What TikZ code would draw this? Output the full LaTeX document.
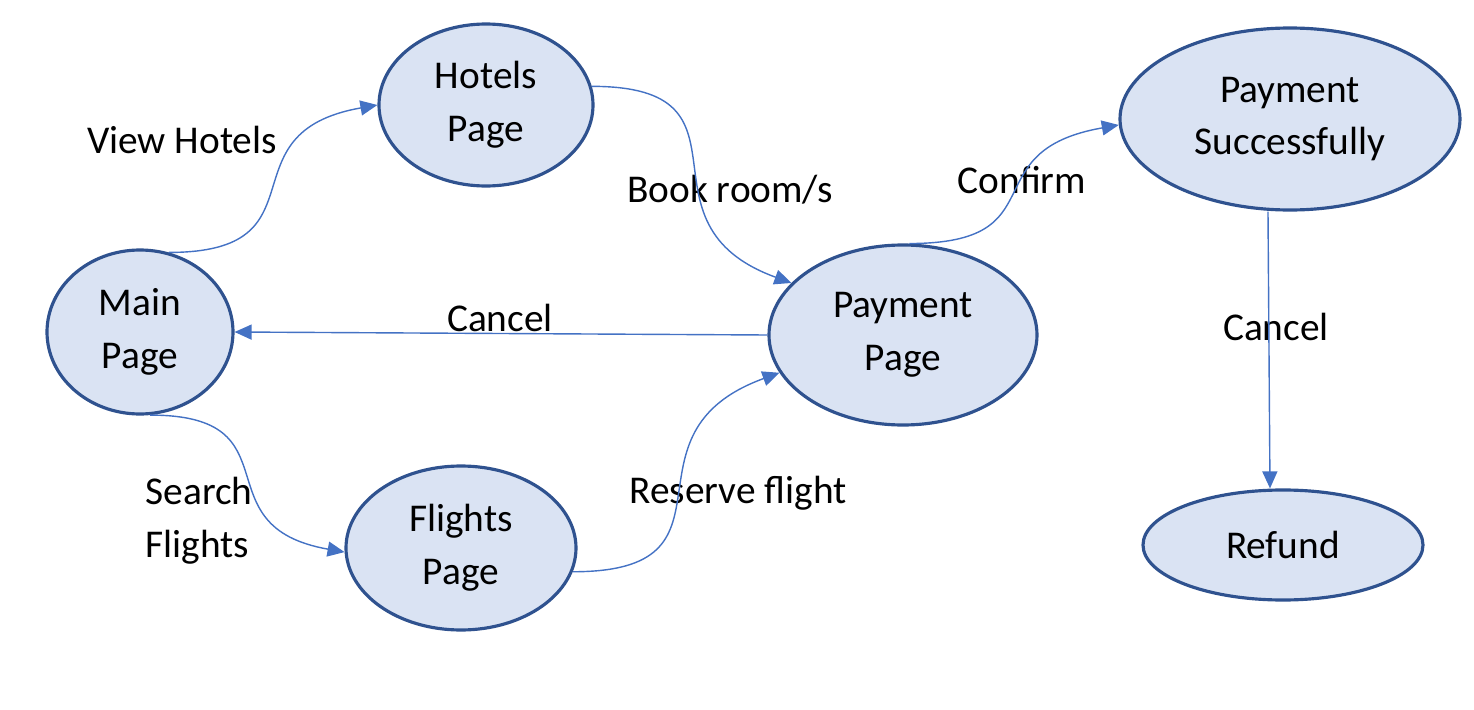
\documentclass[tikz,border=0pt]{standalone}
\usepackage{fontspec}
\setmainfont{Carlito}
\usepackage{xcolor}
\definecolor{statefill}{RGB}{218,227,243}
\definecolor{statedraw}{RGB}{47,82,143}
\definecolor{linkcolor}{RGB}{68,114,196}
\usepackage{tikz}
\usetikzlibrary{arrows.meta, shapes.geometric}

\begin{document}
\begin{tikzpicture}[
    page/.style={ellipse, draw=statedraw, fill=statefill, line width=0.9pt,
      inner sep=0pt, align=center, font=\fontsize{11.2}{15}\selectfont},
    lbl/.style={align=left, inner sep=0pt, font=\fontsize{11.2}{15}\selectfont},
    link/.style={color=linkcolor, line width=0.4pt,
      -{Triangle[length=1.7mm,width=1.5mm]}}
  ]
  \useasboundingbox (0,0) rectangle (14.74,-7.10);
  % pages
  \node[page, minimum width=1.86cm, minimum height=1.64cm] (main) at (1.40,-3.32) {Main\\Page};
  \node[page, minimum width=2.14cm, minimum height=1.62cm] (hotels) at (4.86,-1.05) {Hotels\\Page};
  \node[page, minimum width=2.30cm, minimum height=1.64cm] (flights) at (4.61,-5.48) {Flights\\Page};
  \node[page, minimum width=2.68cm, minimum height=1.80cm] (payment) at (9.03,-3.35) {Payment\\Page};
  \node[page, minimum width=3.40cm, minimum height=1.82cm] (success) at (12.90,-1.19) {Payment\\Successfully};
  \node[page, minimum width=2.80cm, minimum height=1.10cm] (refund) at (12.83,-5.45) {Refund};
  % labels
  \node[lbl] (viewlbl) at (1.82,-1.40) {View Hotels};
  \node[lbl] (booklbl) at (7.30,-1.90) {Book room/s};
  \node[lbl] (confirmlbl) at (10.22,-1.80) {Confirm};
  \node[lbl] (cancellbl) at (5.00,-3.18) {Cancel};
  \node[lbl] (searchlbl) at (1.99,-5.21) {Search\\Flights};
  \node[lbl] (reservelbl) at (7.38,-4.93) {Reserve flight};
  \node[lbl] (refundlbl) at (12.76,-3.27) {Cancel};
  \path[link]
    (main.70) edge[out=0,in=190,looseness=1.6] (hotels.west)
    (hotels.10) edge[out=0,in=160,looseness=1.6] (payment.155)
    (payment.86) edge[out=0,in=190,looseness=1.6] (success.182)
    (flights.-12) edge[out=0,in=200,looseness=1.6] (payment.197)
    (main.-83) edge[out=0,in=170,looseness=1.6] (flights.182)
    (payment.west) edge (main.east)
    ([xshift=-2.2mm]success.south) edge ([xshift=-1.3mm]refund.north)
    ;
\end{tikzpicture}
\end{document}
